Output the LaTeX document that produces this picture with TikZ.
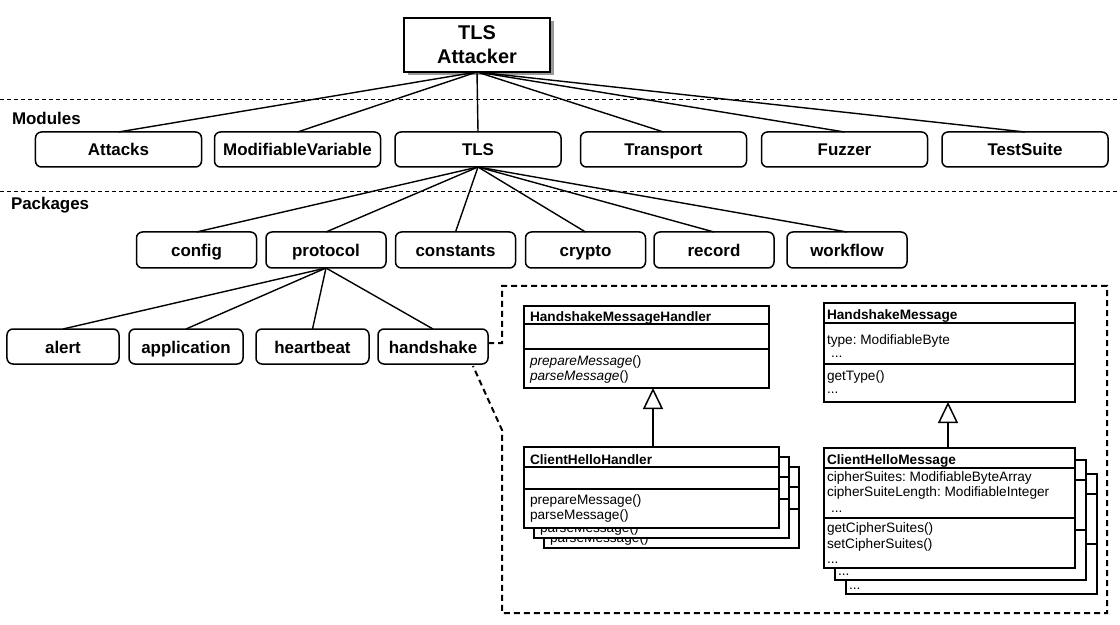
\documentclass[tikz,border=0pt]{standalone}
\usepackage{fontspec}
\setmainfont{Liberation Sans}
\frenchspacing
\usetikzlibrary{arrows.meta,shadows}
\newcommand\drawCHHandler[1]{%
  \node[umlbox, anchor=north west, minimum width=255bp, minimum height=81bp] (#1) at (524,447) {};
  \draw[umlline] (524,467) -- (779,467) (524,489) -- (779,489);
}
\newcommand\drawCHMessage[1]{%
  \node[umlbox, anchor=north west, minimum width=251bp, minimum height=120bp] (#1) at (824,448) {};
  \draw[umlline] (824,468) -- (1075,468) (824,518) -- (1075,518);
}
\begin{document}
\begin{tikzpicture}[x=1bp,y=-1bp,
  every node/.style={inner sep=0pt, outer sep=0pt},
  conn/.style={line width=1.4bp},
  rbox/.style={draw, line width=1.5bp, rounded corners=6bp, fill=white, text height=13bp, text depth=0bp, font=\bfseries\fontsize{17}{20}\selectfont},
  modbox/.style={rbox, minimum width=166bp, minimum height=35bp},
  pkgbox/.style={rbox, minimum width=120bp, minimum height=36bp},
  subbox/.style={rbox, minimum height=35bp},
  sepline/.style={line width=1bp, dash pattern=on 4bp off 3bp},
  callout/.style={line width=2bp, dash pattern=on 6bp off 4bp},
  lbl/.style={font=\bfseries\fontsize{17}{20}\selectfont, anchor=west},
  umlline/.style={line width=1.5bp},
  umlbox/.style={draw, line width=1.5bp, fill=white},
  umltxt/.style={font=\fontsize{13.7}{16}\selectfont, anchor=base west},
  umlname/.style={anchor=base west, font=\bfseries\fontsize{13.7}{16}\selectfont},
  inherit/.style={line width=1.5bp, -{Triangle[open, length=21bp, width=20bp]}},
]
\useasboundingbox[fill=white] (0,0) rectangle (1120,625);

% separators
\coordinate (s1a) at (0,100); \coordinate (s1b) at (1117,100);
\coordinate (s2a) at (0,192); \coordinate (s2b) at (1117,192);
\draw[sepline] (s1a) -- (s1b);
\draw[sepline] (s2a) -- (s2b);
\node[lbl] (modlbl) at (12,118) {Modules};
\node[lbl] (pkglbl) at (11,205) {Packages};

% root
\node[draw, line width=1.5bp, fill=white, minimum width=146bp, minimum height=54bp, align=center,
  font=\bfseries\fontsize{20}{24}\selectfont,
  drop shadow={shadow xshift=3.5bp, shadow yshift=-3.5bp, fill=black!40, opacity=1}] (att) at (477,45) {TLS\\Attacker};

% modules
\node[modbox] (attacks) at (118.5,149.5) {Attacks};
\node[modbox] (modvar) at (297.5,149.5) {ModifiableVariable};
\node[modbox] (tls) at (478,149.5) {TLS};
\node[modbox] (transport) at (663.5,149.5) {Transport};
\node[modbox] (fuzzer) at (844.5,149.5) {Fuzzer};
\node[modbox] (testsuite) at (1025,149.5) {TestSuite};
\foreach \m in {attacks,modvar,tls,transport,fuzzer,testsuite}
  \draw[conn] (att.south) -- (\m.north);

% packages
\node[pkgbox] (config) at (196.5,250) {config};
\node[pkgbox] (protocol) at (326,250) {protocol};
\node[pkgbox] (constants) at (455.5,250) {constants};
\node[pkgbox] (crypto) at (585.5,250) {crypto};
\node[pkgbox] (record) at (714,250) {record};
\node[pkgbox] (workflow) at (847,250) {workflow};
\foreach \p in {config,protocol,constants,crypto,record,workflow}
  \draw[conn] (tls.south) -- (\p.north);

% sub packages
\node[subbox, minimum width=112bp] (alert) at (63,346.5) {alert};
\node[subbox, minimum width=114bp] (application) at (186,346.5) {application};
\node[subbox, minimum width=113bp] (heartbeat) at (312.5,346.5) {heartbeat};
\node[subbox, minimum width=110bp] (hs) at (433,346.5) {handshake};
\foreach \s in {alert,application,heartbeat,hs}
  \draw[conn] (protocol.south) -- (\s.north);

% callout
\coordinate (c1) at (502,343);
\coordinate (c2) at (502,286);
\coordinate (c3) at (1107,286);
\coordinate (c4) at (1107,613);
\coordinate (c5) at (502,613);
\coordinate (c6) at (502,430);
\draw[callout] ([yshift=3.5bp]hs.east) -- (c1) -- (c2) -- (c3) -- (c4) -- (c5) -- (c6) -- ([xshift=-15bp,yshift=-2bp]hs.south east);

% HandshakeMessageHandler
\node[umlbox, anchor=north west, minimum width=245bp, minimum height=82bp] (hmh) at (524,306) {};
\draw[umlline] (524,324) -- (769,324) (524,349) -- (769,349);
\node[umlname] at (530,322) {HandshakeMessageHandler};
\node[umltxt] at (530,365) {\itshape prepareMessage\upshape()};
\node[umltxt] at (530,380) {\itshape parseMessage\upshape()};

% ClientHelloHandler stack
\begin{scope}[shift={(20,20)}]\drawCHHandler{chh3}
  \node[umltxt] at (530,522) {parseMessage()};
\end{scope}
\begin{scope}[shift={(10,10)}]\drawCHHandler{chh2}
  \node[umltxt] at (530,522) {parseMessage()};
\end{scope}
\drawCHHandler{chh}
\node[umlname] at (530,464) {ClientHelloHandler};
\node[umltxt] at (530,504) {prepareMessage()};
\node[umltxt] at (530,519) {parseMessage()};
\coordinate (lt) at (653,0);
\draw[inherit] (lt |- chh.north) -- (lt |- hmh.south);

% HandshakeMessage
\node[umlbox, anchor=north west, minimum width=251bp, minimum height=99bp] (hm) at (824,303) {};
\draw[umlline] (824,323) -- (1075,323) (824,364) -- (1075,364);
\node[umlname] at (827,320) {HandshakeMessage};
\node[umltxt] at (827,344) {type: ModifiableByte};
\node[umltxt] at (831,357) {...};
\node[umltxt] at (827,380) {getType()};
\node[umltxt] at (827,393) {...};

% ClientHelloMessage stack
\begin{scope}[shift={(22,26)}]\drawCHMessage{chm3}
  \node[umltxt] at (827,563) {...};
\end{scope}
\begin{scope}[shift={(11,12)}]\drawCHMessage{chm2}
  \node[umltxt] at (827,563) {...};
\end{scope}
\drawCHMessage{chm}
\node[umlname] at (827,464) {ClientHelloMessage};
\node[umltxt] at (827,481) {cipherSuites: ModifiableByteArray};
\node[umltxt] at (827,496) {cipherSuiteLength: ModifiableInteger};
\node[umltxt] at (831,512) {...};
\node[umltxt] at (827,532) {getCipherSuites()};
\node[umltxt] at (827,548) {setCipherSuites()};
\node[umltxt] at (827,563) {...};
\coordinate (rt) at (948,0);
\draw[inherit] (rt |- chm.north) -- (rt |- hm.south);
\end{tikzpicture}
\end{document}
